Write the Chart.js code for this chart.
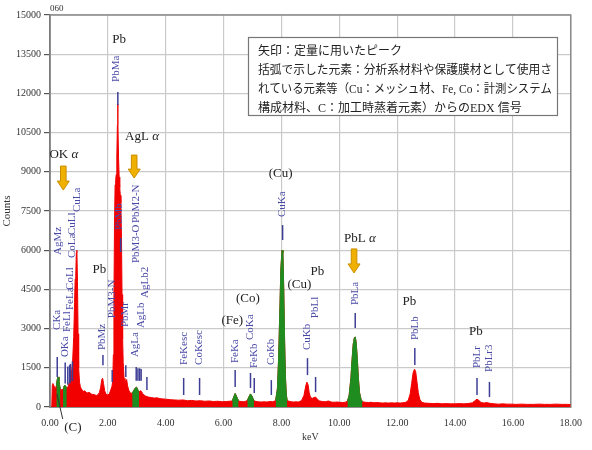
<!DOCTYPE html>
<html><head><meta charset="utf-8">
<script src="https://cdn.jsdelivr.net/npm/chart.js@4"></script>
<style>html,body{margin:0;padding:0;background:#fff}</style>
</head><body>
<canvas id="c" width="592" height="450"></canvas>
<script>
// ---- DATA ----
// EDX spectrum: [energy keV, counts]
const spectrumPoints = [
[0.06,0],[0.08,850],[0.10,900],[0.13,820],[0.16,760],[0.19,700],[0.22,820],[0.25,1050],[0.28,1150],[0.31,1000],
[0.34,780],[0.36,700],[0.39,660],[0.42,650],[0.45,700],[0.48,780],[0.51,840],[0.54,800],[0.58,720],[0.62,760],
[0.66,900],[0.70,1100],[0.74,1300],[0.78,1700],[0.82,2700],[0.85,4000],[0.87,4900],[0.89,5000],[0.91,5900],[0.93,6000],
[0.95,4800],[0.97,2800],[0.99,1500],[1.02,950],[1.05,780],[1.08,700],[1.12,640],[1.16,600],[1.20,620],[1.25,560],
[1.30,540],[1.36,560],[1.42,500],[1.48,480],[1.54,470],[1.60,440],[1.66,470],[1.71,560],[1.75,750],[1.79,1050],
[1.82,1100],[1.85,900],[1.89,620],[1.94,480],[2.00,460],[2.05,500],[2.10,650],[2.14,780],[2.17,1000],[2.19,2000],
[2.21,4200],[2.23,7000],[2.25,8500],[2.27,8700],[2.29,8900],[2.31,9600],[2.33,10800],[2.34,11600],[2.35,11000],[2.37,9500],
[2.39,8800],[2.41,8400],[2.43,8100],[2.45,7800],[2.47,6500],[2.49,4300],[2.51,2600],[2.53,1700],[2.56,1100],[2.59,900],
[2.62,1000],[2.65,1050],[2.68,820],[2.72,650],[2.76,560],[2.80,520],[2.84,540],[2.88,600],[2.92,680],[2.96,740],
[2.99,760],[3.02,700],[3.05,620],[3.08,580],[3.12,620],[3.16,600],[3.20,520],[3.25,460],[3.30,420],[3.40,380],
[3.50,360],[3.60,340],[3.70,350],[3.80,320],[3.90,310],[4.00,300],[4.15,280],[4.30,270],[4.45,260],[4.60,270],
[4.75,240],[4.90,250],[5.05,230],[5.20,240],[5.35,220],[5.50,230],[5.65,210],[5.80,220],[5.95,200],[6.10,210],
[6.20,220],[6.30,230],[6.35,380],[6.40,520],[6.45,400],[6.52,230],[6.60,210],[6.70,200],[6.76,220],[6.82,250],
[6.88,400],[6.93,500],[6.98,420],[7.05,240],[7.12,210],[7.20,200],[7.30,190],[7.40,200],[7.50,190],[7.60,210],
[7.70,200],[7.75,220],[7.80,260],[7.86,700],[7.90,1800],[7.94,3500],[7.98,5300],[8.02,6000],[8.05,5900],[8.08,4500],
[8.11,2500],[8.14,1100],[8.17,450],[8.20,250],[8.26,220],[8.34,200],[8.42,190],[8.50,200],[8.58,190],[8.66,220],
[8.72,300],[8.78,450],[8.84,800],[8.88,950],[8.92,850],[8.96,550],[9.00,380],[9.06,330],[9.12,360],[9.18,380],
[9.24,300],[9.32,230],[9.42,210],[9.52,200],[9.62,230],[9.72,190],[9.82,180],[9.92,190],[10.02,180],[10.12,170],
[10.20,180],[10.28,220],[10.34,450],[10.40,1100],[10.44,1800],[10.48,2400],[10.52,2650],[10.55,2680],[10.58,2500],[10.62,1900],
[10.66,1100],[10.70,550],[10.75,300],[10.80,200],[10.90,180],[11.00,170],[11.10,180],[11.20,160],[11.30,170],[11.40,160],
[11.50,150],[11.60,160],[11.70,150],[11.80,160],[11.90,150],[12.00,160],[12.10,150],[12.20,160],[12.30,180],[12.38,250],
[12.45,500],[12.50,900],[12.55,1300],[12.60,1450],[12.64,1350],[12.68,1000],[12.73,550],[12.78,300],[12.85,180],[12.95,150],
[13.10,140],[13.25,130],[13.40,140],[13.55,120],[13.70,130],[13.85,120],[14.00,120],[14.15,130],[14.30,120],[14.45,130],
[14.60,160],[14.70,250],[14.76,300],[14.82,260],[14.90,170],[15.00,150],[15.10,170],[15.20,140],[15.35,120],[15.50,110],
[15.65,120],[15.80,110],[15.95,110],[16.10,100],[16.30,110],[16.50,100],[16.70,100],[16.90,110],[17.10,100],[17.30,100],
[17.50,110],[17.70,100],[17.90,100],[18.00,90]
];
// energy windows shown in green (peaks of quantified / identified lines)
const greenRanges = [[0.22,0.36],[0.45,0.58],[2.84,3.08],[6.30,6.52],[6.82,7.05],[7.80,8.20],[10.28,10.80]];

// axis ticks
const xTickStep = 2, xMin = 0, xMax = 18;
const yTickStep = 1500, yMin = 0, yMax = 15000;

// KLM markers: [label, line energy, line top count, line bottom count, label energy, label base count]
const lineMarkers = [
['CKa',0.25,1910,1150,0.24,2950],
['AgMz',0.31,null,null,0.27,5820],
['OKa',0.525,1700,900,0.51,1910],
['FeLl',0.615,1550,850,0.60,2870],
['CoLl',0.678,1600,900,0.68,4480],
['FeLa',0.705,1650,950,0.68,3710],
['CoLa',0.776,1750,1000,0.75,5700],
['CuLl',0.811,null,null,0.75,6580],
['CuLa',0.93,null,null,0.92,7460],
['PbMz',1.83,1990,1600,1.81,2180],
['PbM3-N',2.15,1420,960,2.15,3400],
['PbMa',2.345,12050,11560,2.29,12440],
['PbMb',2.443,6470,5930,2.39,6770],
['PbMr',2.62,1600,1150,2.60,3060],
['AgLa',2.98,1530,1000,2.94,1910],
['PbM3-O',3.04,1480,1000,2.98,5510],
['PbM2-N',3.10,1480,1000,2.98,7040],
['AgLb',3.15,1450,1000,3.15,3020],
['AgLb2',3.35,1150,650,3.30,4170],
['FeKesc',4.62,1110,460,4.62,1610],
['CoKesc',5.17,1110,460,5.17,1610],
['FeKa',6.40,1420,770,6.40,1680],
['CoKa',6.93,1300,730,6.93,2560],
['FeKb',7.06,1110,540,7.06,1490],
['CoKb',7.65,1030,460,7.65,1610],
['CuKa',8.04,6960,6390,8.04,7270],
['CuKb',8.90,1870,1220,8.90,2180],
['PbLl',9.18,1150,570,9.18,3400],
['PbLa',10.55,3600,3020,10.55,3900],
['PbLb',12.61,2260,1610,12.61,2560],
['PbLr',14.76,1110,460,14.76,1490],
['PbLr3',15.19,960,380,15.19,1340]
];
// element annotations: [text, italic suffix, energy, count]
const elementNotes = [
['Pb','',2.39,14050],['OK ','α',0.48,9640],['AgL ','α',3.18,10330],['Pb','',1.71,5240],
['(Cu)','',7.97,8920],['(Co)','',6.84,4130],['(Fe)','',6.30,3290],['(Cu)','',8.62,4670],
['Pb','',9.24,5200],['PbL ','α',10.71,6430],['Pb','',12.42,4020],['Pb','',14.72,2870],['(C)','',0.79,-800]
];
// quantification arrows: [energy, top count, bottom count]
const quantArrows = [[0.46,9220,8300],[2.91,9640,8760],[10.51,6050,5130]];
// leader line for (C): [[e1,c1],[e2,c2]]
const cLeader = [[0.44,-460],[0.24,500]];
const noteLines = [
'矢印：定量に用いたピーク',
'括弧で示した元素：分析系材料や保護膜材として使用さ',
'れている元素等（Cu：メッシュ材、Fe, Co：計測システム',
'構成材料、C：加工時蒸着元素）からのEDX 信号'
];
const panelId = '060';

// ---- CHART ----
const inGreen = e => greenRanges.some(([a,b]) => e >= a - 1e-9 && e <= b + 1e-9);
const redData = spectrumPoints.map(([e,c]) => ({x:e, y:c}));
const greenData = spectrumPoints.map(([e,c]) => ({x:e, y: inGreen(e) ? c : null}));

const SERIF = "'Liberation Serif','Times New Roman',serif";
const JP = "'Liberation Serif','Noto Sans CJK JP',serif";

const annot = {
  id: 'annot',
  beforeDatasetsDraw(chart) {
    const {ctx, chartArea: a} = chart;
    ctx.save();
    ctx.strokeStyle = '#8a8a8a'; ctx.lineWidth = 1.5;
    ctx.strokeRect(a.left, a.top, a.right - a.left, a.bottom - a.top);
    ctx.restore();
  },
  afterDatasetsDraw(chart) {
    const {ctx, scales: {x, y}} = chart;
    ctx.save();
    // marker lines + labels
    for (const [name, e, top, bot, le, lb] of lineMarkers) {
      if (top != null) {
        const px = x.getPixelForValue(e);
        ctx.strokeStyle = '#3e3e96'; ctx.lineWidth = 1.5;
        ctx.beginPath(); ctx.moveTo(px, y.getPixelForValue(top)); ctx.lineTo(px, y.getPixelForValue(bot)); ctx.stroke();
      }
      ctx.save();
      ctx.translate(x.getPixelForValue(le), y.getPixelForValue(lb));
      ctx.rotate(-Math.PI / 2);
      ctx.fillStyle = '#4848a6'; ctx.font = '11px ' + SERIF;
      ctx.textAlign = 'left'; ctx.textBaseline = 'middle';
      ctx.fillText(name, 0, 0);
      ctx.restore();
    }
    // element notes
    ctx.fillStyle = '#222'; ctx.textBaseline = 'middle'; ctx.textAlign = 'left';
    for (const [t, it, e, c] of elementNotes) {
      ctx.font = '13px ' + SERIF;
      const w1 = ctx.measureText(t).width;
      ctx.font = 'italic 13px ' + SERIF;
      const w2 = it ? ctx.measureText(it).width : 0;
      const cx = x.getPixelForValue(e), cy = y.getPixelForValue(c);
      let sx = cx - (w1 + w2) / 2;
      ctx.font = '13px ' + SERIF; ctx.fillText(t, sx, cy);
      if (it) { ctx.font = 'italic 13px ' + SERIF; ctx.fillText(it, sx + w1, cy); }
    }
    // leader for (C)
    ctx.strokeStyle = '#333'; ctx.lineWidth = 1;
    ctx.beginPath();
    ctx.moveTo(x.getPixelForValue(cLeader[0][0]), y.getPixelForValue(cLeader[0][1]));
    ctx.lineTo(x.getPixelForValue(cLeader[1][0]), y.getPixelForValue(cLeader[1][1]));
    ctx.stroke();
    // arrows
    for (const [e, t, b] of quantArrows) {
      const cx = x.getPixelForValue(e), ty = y.getPixelForValue(t), by = y.getPixelForValue(b);
      const hl = 9, sw = 2.8, hw = 6;
      ctx.beginPath();
      ctx.moveTo(cx - sw, ty); ctx.lineTo(cx + sw, ty); ctx.lineTo(cx + sw, by - hl);
      ctx.lineTo(cx + hw, by - hl); ctx.lineTo(cx, by); ctx.lineTo(cx - hw, by - hl);
      ctx.lineTo(cx - sw, by - hl); ctx.closePath();
      ctx.fillStyle = '#efb000'; ctx.fill();
      ctx.strokeStyle = '#c98e00'; ctx.lineWidth = 1; ctx.stroke();
    }
    // note box
    const bx = 248, by0 = 37, bw = 309, bh = 78;
    ctx.fillStyle = '#fff'; ctx.fillRect(bx, by0, bw, bh);
    ctx.strokeStyle = '#777'; ctx.lineWidth = 1.2; ctx.strokeRect(bx + 0.5, by0 + 0.5, bw, bh);
    ctx.fillStyle = '#222'; ctx.font = '12px ' + JP; ctx.textBaseline = 'middle';
    noteLines.forEach((ln, i) => ctx.fillText(ln, 258, 52 + i * 19, 294));
    // panel id
    ctx.font = '9px ' + SERIF; ctx.fillStyle = '#333'; ctx.textBaseline = 'middle';
    ctx.fillText(panelId, 50, 9);
    ctx.restore();
  }
};

new Chart(document.getElementById('c'), {
  type: 'line',
  data: {
    datasets: [
      {data: greenData, borderColor: '#1f8c1f', backgroundColor: '#1f8c1f', borderWidth: 1,
       fill: 'origin', pointRadius: 0, tension: 0, spanGaps: false},
      {data: redData, borderColor: '#f20000', backgroundColor: '#f20000', borderWidth: 1,
       fill: 'origin', pointRadius: 0, tension: 0}
    ]
  },
  options: {
    responsive: false, animation: false, devicePixelRatio: 1,
    layout: {padding: {top: 15, right: 16, left: 0, bottom: 0}},
    plugins: {legend: {display: false}, tooltip: {enabled: false}},
    scales: {
      x: {type: 'linear', min: xMin, max: xMax,
          afterFit: s => { s.height = 43; },
          grid: {color: '#cacaca', lineWidth: 1.2, drawTicks: false},
          border: {color: '#555', width: 1.5},
          ticks: {stepSize: xTickStep, padding: 10, maxRotation: 0, autoSkip: false,
                  color: '#333', font: {family: SERIF, size: 10}, callback: v => Number(v).toFixed(2)},
          title: {display: true, text: 'keV', color: '#333', font: {family: SERIF, size: 10}, padding: {top: 0, bottom: 7}}},
      y: {min: yMin, max: yMax,
          afterFit: s => { s.width = 50; },
          grid: {color: '#cacaca', lineWidth: 1.2, tickLength: 6, tickColor: '#555'},
          border: {color: '#555', width: 1.5},
          ticks: {stepSize: yTickStep, padding: 3, color: '#333', font: {family: SERIF, size: 10},
                  callback: v => String(v)},
          title: {display: true, text: 'Counts', color: '#333', font: {family: SERIF, size: 11}, padding: {top: 1, bottom: 0}}}
    }
  },
  plugins: [annot]
});
</script>
</body></html>
